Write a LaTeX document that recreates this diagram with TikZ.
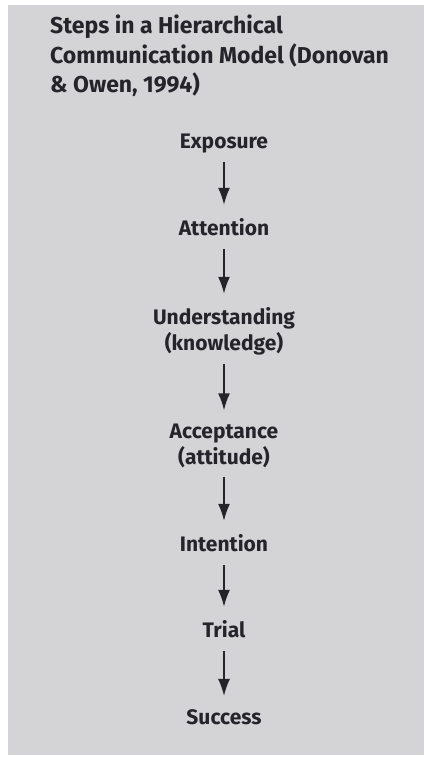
\documentclass[tikz,border=0pt]{standalone}
\usepackage{fontspec}
\setmainfont{Fira Sans}
\usetikzlibrary{arrows.meta}

\definecolor{panel}{RGB}{212,212,214}
\definecolor{ink}{RGB}{36,36,42}

\begin{document}
\begin{tikzpicture}[x=1pt, y=-1pt,
      heading/.style={
        anchor=north west, inner sep=0pt, align=left, text=ink,
        font=\fontsize{23}{29.5}\selectfont\bfseries
      },
      stage/.style={
        anchor=base, inner sep=0pt, align=center, text=ink,
        font=\fontsize{21}{26}\selectfont\bfseries
      },
      flow/.style={
        draw=ink, line width=1.6pt, -{Latex[length=17pt,width=12pt]},
        shorten <=9pt, shorten >=13pt
      }
    ]
    \useasboundingbox (0,0) rectangle (424,758);
    \fill [panel] (8,5) rectangle (424,755);
    \node [heading] (title) at (50,15) {Steps in a Hierarchical\\Communication Model (Donovan\\\& Owen, 1994)};
    \node [stage, text depth=5pt] (exposure) at (224,148) {Exposure};
    \node [stage, text depth=5pt] (attention) at (224,235) {Attention};
    \node [stage] (understanding) at (224,350) {Understanding\\(knowledge)};
    \node [stage] (acceptance) at (224,464) {Acceptance\\(attitude)};
    \node [stage, text depth=5pt] (intention) at (224,551) {Intention};
    \node [stage, text depth=5pt] (trial) at (224,637) {Trial};
    \node [stage, text depth=5pt] (success) at (224,724) {Success};
    \draw [flow] (exposure) -- (attention);
    \draw [flow] (attention) -- (understanding);
    \draw [flow] (understanding) -- (acceptance);
    \draw [flow] (acceptance) -- (intention);
    \draw [flow] (intention) -- (trial);
    \draw [flow] (trial) -- (success);
  \end{tikzpicture}
\end{document}
